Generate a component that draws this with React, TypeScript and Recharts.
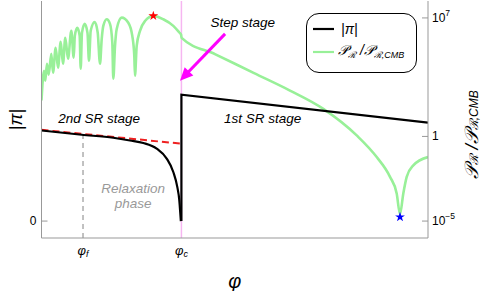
import React from 'react';
import {
  ComposedChart,
  Line,
  XAxis,
  YAxis,
  ReferenceLine,
  ReferenceDot,
  Scatter,
  Legend,
  Symbols,
} from 'recharts';

const FONT = '"Liberation Sans", Arial, sans-serif';

// phi axis (arbitrary units 0..100)
const PHI_F = 10.74;
const PHI_C = 36.2;
const xTicks = [PHI_F, PHI_C];
const xTickSubs = ['f', 'c'];

// |pi| before phi_c (2nd SR stage + relaxation)
const piLeftX = [0, 10.4, 18.58, 22.9, 26.34, 29.8, 32.39, 34.1, 35.13, 35.65, 35.9, 36.05];
const piLeftV = [5.35, 5.1, 4.92, 4.76, 4.61, 4.28, 3.69, 2.9, 2.02, 1.24, 0.5, 0];
// |pi| jump at phi_c and 1st SR stage
const piRightX = [PHI_C, PHI_C, 100];
const piRightV = [0, 7.47, 5.82];
// red dashed slow-roll extrapolation
const srX = [0, PHI_C];
const srV = [5.39, 4.57];

// power spectrum ratio, log10 values
const prX = [
  0, 0.65, 0.98, 1.42, 1.86, 2.54, 2.98, 3.67, 4.27, 4.97, 5.56, 6.16, 6.86, 7.71, 8.33,
  8.62, 9.26, 9.88, 10.14, 10.47, 11.18, 11.9, 12.29, 12.73, 13.76, 14.54, 15.14, 15.58,
  15.99, 16.87, 17.72, 18.32, 18.58, 19.02, 19.46, 20.75, 22.46, 23.49, 24.01, 24.19,
  24.63, 25.49, 26.78, 28.93, 31.51, 34.1, 35.65, 36.1, 36.25, 45, 55, 64.29, 72.91, 81.55,
  86.73, 90.17, 91.9, 92.76, 93.61, 94.49, 96.2, 100,
];
const prLog = [
  2.12, 3.88, 3.29, 4.29, 3.65, 4.88, 3.76, 5.24, 4.06, 5.59, 4.29, 5.82, 4.59, 6.24, 4.65,
  5.94, 6.41, 5.94, 4.0, 6.12, 6.65, 6.12, 4.47, 6.24, 6.76, 6.14, 4.29, 5.76,
  6.53, 6.92, 6.65, 5.55, 3.41, 5.35, 6.35, 7.02, 6.72, 5.94, 4.76, 3.59,
  5.35, 6.24, 6.82, 7.12, 6.92, 6.53, 6.14, 6.02, 5.82, 4.85, 3.74, 2.71, 1.63, 0.06,
  -1.22, -2.39, -3.37, -4.59, -3.37, -2.39, -1.71, -1.22,
];

// stars
const peakStar = [{ x: 28.93, p: Math.pow(10, 7.12) }];
const dipStar = [{ x: 92.76, p: Math.pow(10, -4.76) }];

// ticks
const leftTicks = [0];
const rightTicks = [1e-5, 1, 1e7];

// annotations (left axis units)
const notes = [
  { text: 'Step stage', x: 52.1, y: 11.71, color: '#000' },
  { text: '2nd SR stage', x: 14.9, y: 6.06, color: '#000' },
  { text: '1st SR stage', x: 57.2, y: 6.06, color: '#000' },
  { text: 'Relaxation', x: 23.7, y: 1.94, color: '#999' },
  { text: 'phase', x: 23.7, y: 1.06, color: '#999' },
];
const arrowStart = { x: 47.5, y: 11.06 };
const arrowEnd = { x: 35.83, y: 8.29 };
const phiFTop = 5.08;

const piLeftData = piLeftX.map((x, i) => ({ x, v: piLeftV[i] }));
const piRightData = piRightX.map((x, i) => ({ x, v: piRightV[i] }));
const srData = srX.map((x, i) => ({ x, v: srV[i] }));
const prData = prX.map((x, i) => ({ x, p: Math.pow(10, prLog[i]) }));

const GREEN = '#98f098';
const PINK = '#f6b6f1';
const MAGENTA = '#ff00ff';
const FRAME = '#999';

const PRLabel = ({ size, sub }: { size: number; sub: number }) => (
  <>
    <tspan fontSize={size}>𝒫</tspan>
    <tspan fontSize={sub} dy={3}>ℛ</tspan>
    <tspan fontSize={size} dy={-3}> /𝒫</tspan>
    <tspan fontSize={sub} dy={3}>ℛ,CMB</tspan>
  </>
);

const LeftTick = (props: any) => {
  const { x, y, payload } = props;
  return (
    <g>
      <line x1={x + 5} x2={x + 11} y1={y} y2={y} stroke={FRAME} />
      <text x={x} y={y} dy={4} textAnchor="end" fontSize={12} fontFamily={FONT} fill="#000">
        {payload.value}
      </text>
    </g>
  );
};

const RightTick = (props: any) => {
  const { x, y, payload } = props;
  const v = payload.value as number;
  const e = Math.round(Math.log10(v));
  return (
    <g>
      <line x1={x - 10} x2={x - 4} y1={y} y2={y} stroke={FRAME} />
      <text x={x} y={y} dy={4} textAnchor="start" fontSize={12} fontFamily={FONT} fill="#000">
        {e === 0 ? (
          '1'
        ) : (
          <>
            <tspan>10</tspan>
            <tspan fontSize={8.5} dy={-6}>{e < 0 ? '−' + Math.abs(e) : e}</tspan>
          </>
        )}
      </text>
    </g>
  );
};

const XTick = (props: any) => {
  const { x, y, index } = props;
  return (
    <text x={x} y={y + 17} textAnchor="middle" fontFamily={FONT} fill="#000" fontStyle="italic">
      <tspan fontSize={13}>φ</tspan>
      <tspan fontSize={9} dy={2}>{xTickSubs[index]}</tspan>
    </text>
  );
};

const Arrow = (props: any) => {
  const { x1, y1, x2, y2 } = props;
  if ([x1, y1, x2, y2].some((v) => typeof v !== 'number')) return null;
  const dx = x2 - x1;
  const dy = y2 - y1;
  const len = Math.hypot(dx, dy);
  const ux = dx / len;
  const uy = dy / len;
  const L = 13;
  const W = 6;
  const bx = x2 - ux * L;
  const by = y2 - uy * L;
  const pts = `${x2},${y2} ${bx - uy * W},${by + ux * W} ${bx + uy * W},${by - ux * W}`;
  return (
    <g>
      <line x1={x1} y1={y1} x2={bx + ux * 2} y2={by + uy * 2} stroke={MAGENTA} strokeWidth={3} />
      <polygon points={pts} fill={MAGENTA} />
    </g>
  );
};

const LegendBox = () => (
  <div
    style={{
      width: 111,
      height: 60,
      boxSizing: 'border-box',
      border: '1.6px solid #000',
      borderRadius: 13,
      background: '#fff',
    }}
  >
    <svg width={108} height={57} style={{ display: 'block' }}>
      <line x1={6} x2={27} y1={15} y2={15} stroke="#000" strokeWidth={2.2} />
      <text x={34} y={15} dy={4.5} fontSize={14} fontFamily={FONT} fontStyle="italic">
        |π|
      </text>
      <line x1={6} x2={27} y1={38} y2={38} stroke={GREEN} strokeWidth={2.2} />
      <text x={31} y={38} dy={3} fontFamily={FONT} fontStyle="italic">
        <PRLabel size={14} sub={9} />
      </text>
    </svg>
  </div>
);

const StarShape = (color: string) => (props: any) => (
  <Symbols cx={props.cx} cy={props.cy} type="star" size={30} fill={color} />
);

export default function App() {
  return (
    <div style={{ position: 'absolute', left: 0, top: 0, width: 491, height: 291, background: '#fff' }}>
      <ComposedChart width={491} height={291} margin={{ top: 1, right: 3, bottom: 3, left: 11.5 }}>
        <XAxis
          type="number"
          dataKey="x"
          domain={[0, 100]}
          ticks={xTicks}
          allowDataOverflow
          height={50}
          axisLine={{ stroke: FRAME }}
          tickLine={false}
          tickSize={0}
          tickMargin={0}
          tick={<XTick />}
          interval={0}
          label={{
            content: (p: any) => {
              const vb = p.viewBox || { x: 41.5, y: 238, width: 386.5 };
              return (
                <text
                  x={vb.x + vb.width / 2}
                  y={vb.y + 50}
                  textAnchor="middle"
                  fontSize={20}
                  fontStyle="italic"
                  fontFamily={FONT}
                >
                  φ
                </text>
              );
            },
          }}
        />
        <XAxis
          xAxisId="top"
          orientation="top"
          type="number"
          domain={[0, 100]}
          height={0}
          tick={false}
          tickLine={false}
          axisLine={{ stroke: FRAME }}
        />
        <YAxis
          yAxisId="left"
          type="number"
          domain={[-1, 13]}
          ticks={leftTicks}
          allowDataOverflow
          width={30}
          axisLine={{ stroke: FRAME }}
          tickLine={false}
          tickSize={0}
          tickMargin={5}
          tick={<LeftTick />}
          interval={0}
          label={{
            content: (p: any) => {
              const vb = p.viewBox || { x: 11.5, y: 1, width: 30, height: 237 };
              const cx = vb.x + 4;
              const cy = vb.y + vb.height / 2;
              return (
                <text
                  x={cx}
                  y={cy}
                  textAnchor="middle"
                  dominantBaseline="central"
                  fontSize={18}
                  fontStyle="italic"
                  fontFamily={FONT}
                  transform={`rotate(-90 ${cx} ${cy})`}
                >
                  |π|
                </text>
              );
            },
          }}
        />
        <YAxis
          yAxisId="right"
          orientation="right"
          scale="log"
          type="number"
          domain={[1e-6, 1e8]}
          ticks={rightTicks}
          allowDataOverflow
          width={60}
          axisLine={{ stroke: FRAME }}
          tickLine={false}
          tickSize={0}
          tickMargin={4}
          tick={<RightTick />}
          interval={0}
          label={{
            content: (p: any) => {
              const vb = p.viewBox || { x: 428, y: 1, width: 60, height: 237 };
              const cx = vb.x + 43;
              const cy = vb.y + vb.height / 2 + 15;
              return (
                <text
                  x={cx}
                  y={cy}
                  textAnchor="middle"
                  dominantBaseline="central"
                  fontStyle="italic"
                  fontFamily={FONT}
                  transform={`rotate(-90 ${cx} ${cy})`}
                >
                  <PRLabel size={19} sub={12} />
                </text>
              );
            },
          }}
        />

        <ReferenceLine x={PHI_C} yAxisId="left" stroke={PINK} strokeWidth={1.5} />
        <ReferenceLine
          yAxisId="left"
          segment={[
            { x: PHI_F, y: -1 },
            { x: PHI_F, y: phiFTop },
          ]}
          stroke="#999"
          strokeWidth={1.2}
          strokeDasharray="5 4"
        />

        <Line
          data={prData}
          dataKey="p"
          yAxisId="right"
          type="monotone"
          stroke={GREEN}
          strokeWidth={2.6}
          dot={false}
          isAnimationActive={false}
          name="P"
        />
        <Line
          data={srData}
          dataKey="v"
          yAxisId="left"
          type="linear"
          stroke="#ee2020"
          strokeWidth={2}
          strokeDasharray="7 4"
          dot={false}
          isAnimationActive={false}
          legendType="none"
        />
        <Line
          data={piLeftData}
          dataKey="v"
          yAxisId="left"
          type="monotone"
          stroke="#000"
          strokeWidth={2.2}
          dot={false}
          isAnimationActive={false}
          name="pi"
        />
        <Line
          data={piRightData}
          dataKey="v"
          yAxisId="left"
          type="linear"
          stroke="#000"
          strokeWidth={2.2}
          dot={false}
          isAnimationActive={false}
          legendType="none"
        />

        <Scatter
          data={peakStar}
          dataKey="p"
          yAxisId="right"
          shape={StarShape('#ff0000')}
          isAnimationActive={false}
          legendType="none"
        />
        <Scatter
          data={dipStar}
          dataKey="p"
          yAxisId="right"
          shape={StarShape('#0000ff')}
          isAnimationActive={false}
          legendType="none"
        />

        <ReferenceLine
          yAxisId="left"
          segment={[arrowStart, arrowEnd]}
          shape={(p: any) => <Arrow {...p} />}
        />

        {notes.map((n) => (
          <ReferenceDot
            key={n.text}
            x={n.x}
            y={n.y}
            yAxisId="left"
            r={0}
            shape={(p: any) => (
              <text
                x={p.cx}
                y={p.cy}
                textAnchor="middle"
                dominantBaseline="central"
                fontSize={13.5}
                fontStyle="italic"
                fontFamily={FONT}
                fill={n.color}
              >
                {n.text}
              </text>
            )}
          />
        ))}

        <Legend
          layout="vertical"
          align="center"
          verticalAlign="middle"
          wrapperStyle={{ left: 306, top: 13, width: 111, height: 60 }}
          content={() => <LegendBox />}
        />
      </ComposedChart>
    </div>
  );
}
